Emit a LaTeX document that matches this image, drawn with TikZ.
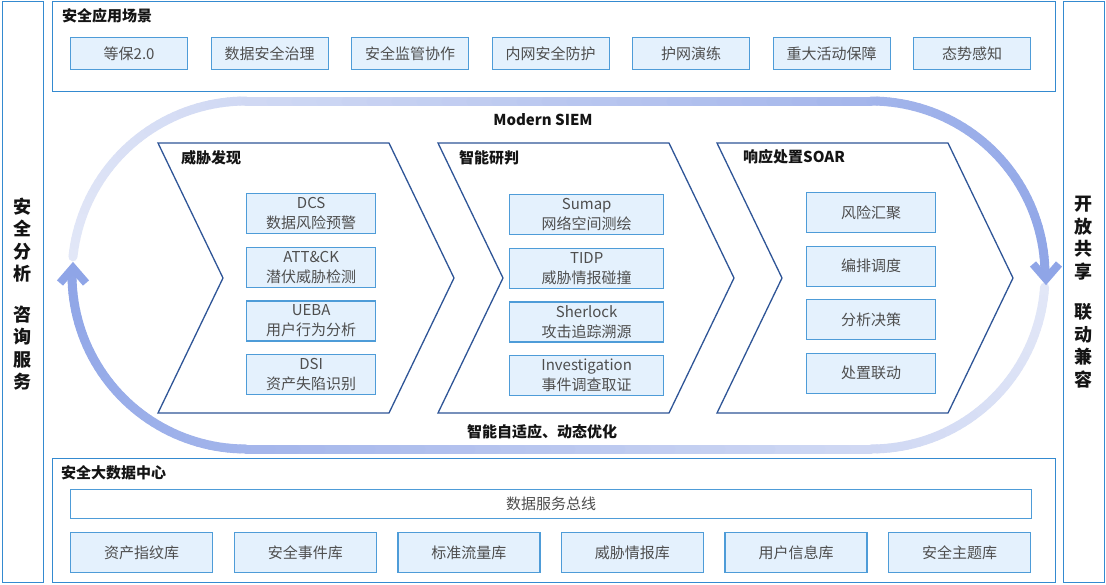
\documentclass[tikz,border=0pt]{standalone}
\usepackage{fontspec}
\setmainfont{Noto Sans CJK SC}
\definecolor{outerblue}{RGB}{52,138,208}
\definecolor{itemblue}{RGB}{78,156,216}
\definecolor{itemfill}{RGB}{228,241,253}
\definecolor{chevblue}{RGB}{47,85,151}
\definecolor{txtgray}{RGB}{78,78,78}
\definecolor{hdrblack}{RGB}{20,20,20}
\definecolor{loopL}{RGB}{226,231,247}
\definecolor{loopD}{RGB}{143,165,231}
\begin{document}
\begin{tikzpicture}[x=1pt,y=-1pt,
  outerbox/.style={draw=outerblue, line width=1.4pt, fill=white},
  itembox/.style={draw=itemblue, fill=itemfill, line width=1.3pt, text=txtgray,
     font=\fontsize{15}{20}\selectfont, inner sep=0pt, align=center, anchor=north west},
  chev/.style={draw=chevblue, line width=1.3pt, fill=white, line join=miter},
  hdr/.style={font=\fontsize{15}{18}\selectfont\bfseries, text=hdrblack, anchor=west, inner sep=0pt},
  vtext/.style={font=\fontsize{18}{22.5}\selectfont\bfseries, text=hdrblack, align=center, inner sep=0pt},
  loopline/.style={line width=9pt, line cap=round},
  caret/.style={line width=8pt, color=loopD, line join=miter, line cap=butt}
]
\useasboundingbox (0,0) rectangle (1106,584);
\fill[white] (0,0) rectangle (1106,584);

% side panels
\node[outerbox, minimum width=41pt, minimum height=581pt, anchor=north west, inner sep=0pt] (leftpanel) at (2,1) {};
\node[outerbox, minimum width=41pt, minimum height=581pt, anchor=north west, inner sep=0pt] (rightpanel) at (1063,1) {};
\node[vtext] (lefttxt) at (22.5,294) {安\\全\\分\\析\\[18pt]咨\\询\\服\\务};
\node[vtext] (righttxt) at (1083.5,292) {开\\放\\共\\享\\[18pt]联\\动\\兼\\容};

% top box
\node[outerbox, minimum width=1003pt, minimum height=90pt, anchor=north west, inner sep=0pt] (topbox) at (52,1) {};
\node[hdr] (toph) at (62,16) {安全应用场景};
\foreach \t [count=\i from 0] in {等保2.0,数据安全治理,安全监管协作,内网安全防护,护网演练,重大活动保障,态势感知}
  \node[itembox, minimum width=117pt, minimum height=32pt] (app\i) at ({70+140.5*\i},37) {\t};

% bottom box
\node[outerbox, minimum width=1003pt, minimum height=124pt, anchor=north west, inner sep=0pt] (botbox) at (52,458) {};
\node[hdr] (both) at (61,473) {安全大数据中心};
\node[itembox, fill=white, minimum width=961pt, minimum height=29pt] (bus) at (70,489) {数据服务总线};
\foreach \t [count=\i from 0] in {资产指纹库,安全事件库,标准流量库,威胁情报库,用户信息库,安全主题库}
  \node[itembox, minimum width=142pt, minimum height=40pt] (db\i) at ({70+163.6*\i},532) {\t};

% loop (upper half: light -> dark)
\foreach \a [evaluate=\a as \f using {int((174-\a)*3.0369/1150*100)}] in {174,172,...,92}
  \draw[loopline, color=loopD!\f!loopL] ({246+174*cos(\a)},{275-174*sin(\a)}) -- ({246+174*cos(\a-2)},{275-174*sin(\a-2)});
\foreach \x [evaluate=\x as \f using {int((255+\x-246)/1150*100)}] in {246,271,...,846}
  \draw[loopline, color=loopD!\f!loopL] (\x,101) -- (\x+25,101);
\foreach \a [evaluate=\a as \f using {int((880+(90-\a)*3.0369)/1150*100)}] in {90,88,...,2}
  \draw[loopline, color=loopD!\f!loopL] ({871+174*cos(\a)},{275-174*sin(\a)}) -- ({871+174*cos(\a-2)},{275-174*sin(\a-2)});
% loop (lower half: light -> dark)
\foreach \a [evaluate=\a as \f using {int((-4-\a)*3.0369/1159*100)}] in {-4,-6,...,-88}
  \draw[loopline, color=loopD!\f!loopL] ({871+174*cos(\a)},{275-174*sin(\a)}) -- ({871+174*cos(\a-2)},{275-174*sin(\a-2)});
\foreach \x [evaluate=\x as \f using {int((261+871-\x)/1159*100)}] in {871,846,...,271}
  \draw[loopline, color=loopD!\f!loopL] (\x,449) -- (\x-25,449);
\foreach \a [evaluate=\a as \f using {int((886+(270-\a)*3.0369)/1159*100)}] in {270,268,...,182}
  \draw[loopline, color=loopD!\f!loopL] ({246+174*cos(\a)},{275-174*sin(\a)}) -- ({246+174*cos(\a-2)},{275-174*sin(\a-2)});
% arrow heads
\coordinate (rtip) at (1046,279);
\coordinate (ltip) at (73,268);
\draw[caret] ([shift={(-13,-15)}]rtip) -- (rtip) -- ([shift={(13,-15)}]rtip);
\draw[caret] ([shift={(-13,15)}]ltip) -- (ltip) -- ([shift={(13,15)}]ltip);

\node[font=\fontsize{15}{18}\selectfont\bfseries, text=hdrblack] (siem) at (543,120) {Modern SIEM};
\node[font=\fontsize{15}{18}\selectfont\bfseries, text=hdrblack] (adapt) at (542,432) {智能自适应、动态优化};

% chevrons
\foreach \L/\nm in {158/c1,438/c2,717/c3}
  \draw[chev] (\L,143) -- (\L+231,143) -- (\L+296,278) -- (\L+231,413) -- (\L,413) -- (\L+65,278) -- cycle;
\node[hdr] (h1) at (181,158) {威胁发现};
\node[hdr] (h2) at (459,158) {智能研判};
\node[hdr] (h3) at (743,157) {响应处置SOAR};

\foreach \t [count=\i from 0] in {DCS\\数据风险预警,ATT\&CK\\潜伏威胁检测,UEBA\\用户行为分析,DSI\\资产失陷识别}
  \node[itembox, minimum width=129pt, minimum height=40pt] (a\i) at (246,{193+53.7*\i}) {\t};
\foreach \t [count=\i from 0] in {Sumap\\网络空间测绘,TIDP\\威胁情报碰撞,Sherlock\\攻击追踪溯源,Investigation\\事件调查取证}
  \node[itembox, minimum width=154pt, minimum height=40pt] (b\i) at (509,{194+53.7*\i}) {\t};
\foreach \t [count=\i from 0] in {风险汇聚,编排调度,分析决策,处置联动}
  \node[itembox, minimum width=129pt, minimum height=40pt] (s\i) at (806,{192+53.5*\i}) {\t};
\end{tikzpicture}
\end{document}
